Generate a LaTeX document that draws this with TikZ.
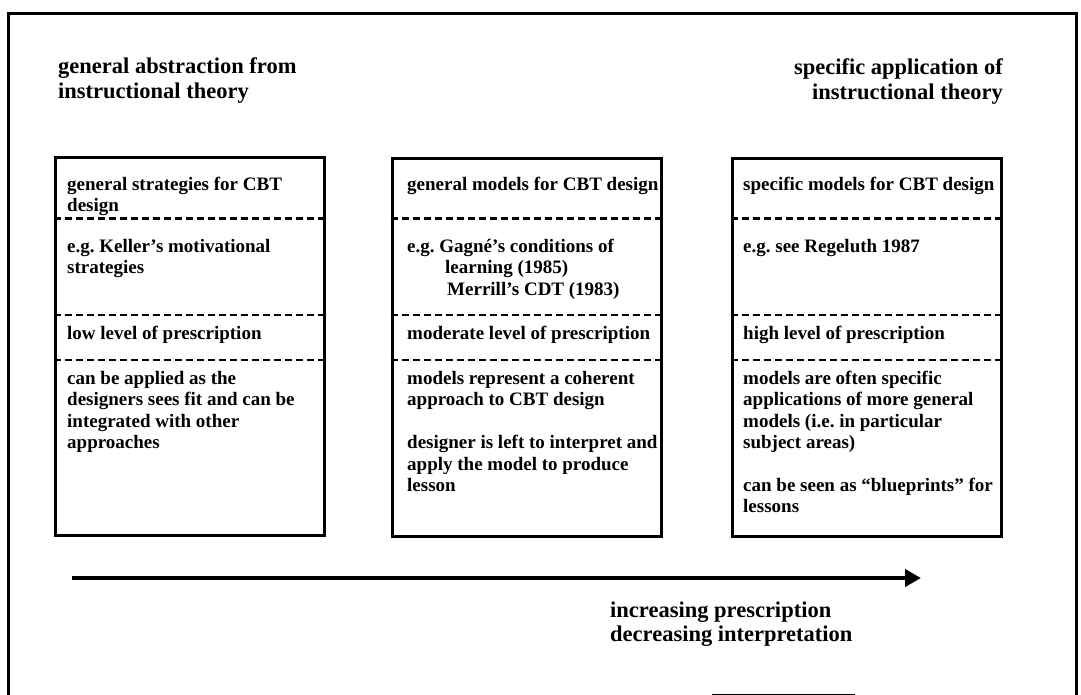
\documentclass[tikz,border=0pt]{standalone}
\usepackage{fontspec}
\setmainfont{Liberation Serif}
\usetikzlibrary{arrows.meta}
\frenchspacing
\newcommand\bxfont{\fontsize{19}{21.4}\selectfont\bfseries}
\newcommand\ttlfont{\fontsize{22.5}{24.5}\selectfont\bfseries}
\newcommand\sectL[1]{\parbox[t]{300pt}{\raggedright #1}}
\newcommand\sectR[1]{\parbox[t]{300pt}{\raggedleft #1}}
\tikzset{
  frame/.style={line width=3pt},
  boxn/.style={draw, line width=3pt, minimum width=269pt, minimum height=377pt, inner sep=0pt},
  dv/.style={line width=2.6pt, dash pattern=on 7pt off 4pt},
  txt/.style={anchor=base west, inner sep=0pt, font=\bxfont},
  ttl/.style={anchor=base west, inner sep=0pt, font=\ttlfont},
  ttlr/.style={anchor=base east, inner sep=0pt, font=\ttlfont},
  axis/.style={line width=4pt, -{Triangle[length=16pt,width=17pt]}}
}
\begin{document}
\begin{tikzpicture}[x=1pt,y=-1pt]
\useasboundingbox (0,0) rectangle (1081,695);
% outer frame
\draw[frame] (8,700) -- (8,14) -- (1076,14) -- (1076,700);
\draw[line width=1pt] (712,694) -- (855,694);
% titles
\node[ttl] (tl) at (58,74) {\sectL{general abstraction from\\instructional theory}};
\node[ttlr] (tr) at (1003,75) {\sectR{specific application of\\instructional theory}};
% boxes
\node[boxn] (b1) at (189.5,346.5) {};
\node[boxn] (b2) at (526.5,347.5) {};
\node[boxn] (b3) at (866.5,347.5) {};
\foreach \b in {b1,b2,b3}{
  \draw[dv] (\b.west |- 0,218.5) -- (\b.east |- 0,218.5);
  \draw[dv] (\b.west |- 0,315) -- (\b.east |- 0,315);
  \draw[dv] (\b.west |- 0,360) -- (\b.east |- 0,360);
}
% left box texts
\node[txt] (l1) at (67,190.5) {\sectL{general strategies for CBT\\design}};
\node[txt] (l2) at (67,252.5) {\sectL{e.g. Keller's motivational\\strategies}};
\node[txt] (l3) at (67,339) {\sectL{low level of prescription}};
\node[txt] (l4) at (67,384.5) {\sectL{can be applied as the\\designers sees fit and can be\\integrated with other\\approaches}};
% middle box texts
\node[txt] (m1) at (407,190.5) {\sectL{general models for CBT design}};
\node[txt] (m2) at (407,252.5) {\sectL{e.g. Gagné's conditions of\\\hspace*{38pt}learning (1985)\\\hspace*{40pt}Merrill's CDT (1983)}};
\node[txt] (m3) at (407,339) {\sectL{moderate level of prescription}};
\node[txt] (m4) at (407,384.5) {\sectL{models represent a coherent\\approach to CBT design\\[21.4pt]designer is left to interpret and\\apply the model to produce\\lesson}};
% right box texts
\node[txt] (r1) at (743,190.5) {\sectL{specific models for CBT design}};
\node[txt] (r2) at (743,252.5) {\sectL{e.g. see Regeluth 1987}};
\node[txt] (r3) at (743,339) {\sectL{high level of prescription}};
\node[txt] (r4) at (743,384.5) {\sectL{models are often specific\\applications of more general\\models (i.e. in particular\\subject areas)\\[21.4pt]can be seen as “blueprints” for\\lessons}};
% arrow
\coordinate (as) at (72,578);
\coordinate (ae) at (921,578);
\draw[axis] (as) -- (ae);
\node[ttl] (bt) at (610,617) {\sectL{increasing prescription\\decreasing interpretation}};
\end{tikzpicture}
\end{document}
